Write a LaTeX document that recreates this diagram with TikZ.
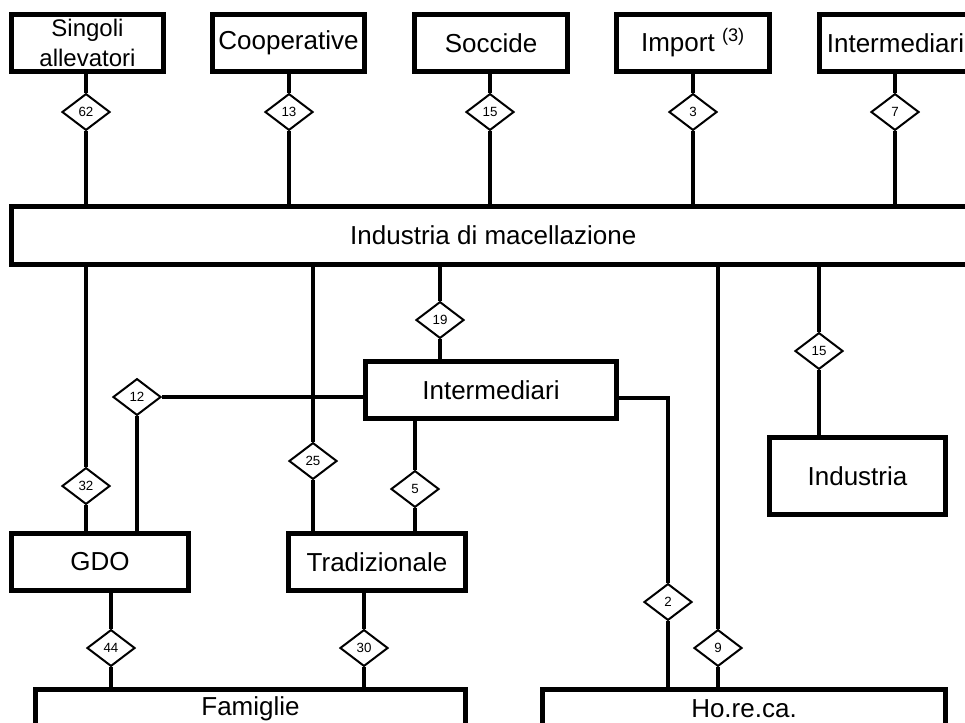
\documentclass[tikz,border=0pt]{standalone}
\usepackage{fontspec}
\setmainfont{Liberation Sans}
\usetikzlibrary{shapes.geometric}
\begin{document}
\begin{tikzpicture}[x=0.75pt,y=-0.75pt,
  box/.style={draw, line width=4pt, fill=white, inner sep=0pt,
    font=\fontsize{19.5}{23}\selectfont},
  flow/.style={draw, diamond, line width=1.5pt, fill=white, inner sep=0pt,
    minimum width=36pt, minimum height=27.5pt, shape aspect=1.33,
    font=\fontsize{10}{12}\selectfont},
  link/.style={line width=2.3pt}]
\useasboundingbox (0,0) rectangle (965,722);
\clip (0,0) rectangle (965,722);

% suppliers
\node[box, minimum width=114pt, minimum height=42.75pt, align=center,
  font=\fontsize{18}{22.5}\selectfont] (sing) at (87.5,43) {Singoli\\allevatori};
\node[box, minimum width=114pt, minimum height=42.75pt] (coop) at (288.5,43) {Cooperative};
\node[box, minimum width=114.75pt, minimum height=42.75pt] (socc) at (491,43) {Soccide};
\node[box, minimum width=114.75pt, minimum height=42.75pt] (imp) at (693,43) {Import \textsuperscript{(3)}};
\node[box, minimum width=114pt, minimum height=42.75pt] (intt) at (895.5,43) {Intermediari};

% slaughtering industry
\node[box, minimum width=722.6pt, minimum height=43.5pt] (mac) at (493.25,235.5) {Industria di macellazione};

% downstream
\node[box, minimum width=188.25pt, minimum height=42.75pt] (intm) at (491,390) {Intermediari};
\node[box, minimum width=132.75pt, minimum height=42.75pt] (gdo) at (100,562) {GDO};
\node[box, minimum width=132.75pt, minimum height=42.75pt] (trad) at (377,562) {Tradizionale};
\node[box, minimum width=132pt, minimum height=57.75pt] (ind) at (857.5,476) {Industria};
\node[box, anchor=north, minimum width=322.5pt, minimum height=30pt] (fam) at (250.5,686.5) {Famiglie};
\node[box, anchor=north, minimum width=302.25pt, minimum height=30pt] (hor) at (744,686.5) {Ho.re.ca.};

% flow shares
\node[flow] (d62) at (86,112) {62};
\node[flow] (d13) at (289,112) {13};
\node[flow] (d15a) at (490,112) {15};
\node[flow] (d3) at (693,112) {3};
\node[flow] (d7) at (895,112) {7};
\node[flow] (d19) at (440,320) {19};
\node[flow] (d15b) at (819,351) {15};
\node[flow] (d12) at (137,397) {12};
\node[flow] (d32) at (86,486) {32};
\node[flow] (d25) at (313,461) {25};
\node[flow] (d5) at (415,489) {5};
\node[flow] (d44) at (111,648) {44};
\node[flow] (d30) at (364,648) {30};
\node[flow] (d2) at (668,602) {2};
\node[flow] (d9) at (718,648) {9};
\coordinate (bend) at (668,398);

\begin{scope}[on background layer/.style={}]
\foreach \d/\a/\b in {d62/sing/mac, d13/coop/mac, d15a/socc/mac, d3/imp/mac, d7/intt/mac,
  d19/mac/intm, d15b/mac/ind, d32/mac/gdo, d25/mac/trad, d9/mac/hor, d5/intm/trad,
  d44/gdo/fam, d30/trad/fam} {
  \draw[link] (\d |- \a.south) -- (\d.north);
  \draw[link] (\d.south) -- (\d |- \b.north);
}
\draw[link] (d12.east) -- (d12 -| intm.west);
\draw[link] (d12.south) -- (d12 |- gdo.north);
\draw[link] (bend -| intm.east) -- (bend) -- (d2.north);
\draw[link] (d2.south) -- (d2 |- hor.north);
\end{scope}
\end{tikzpicture}
\end{document}
